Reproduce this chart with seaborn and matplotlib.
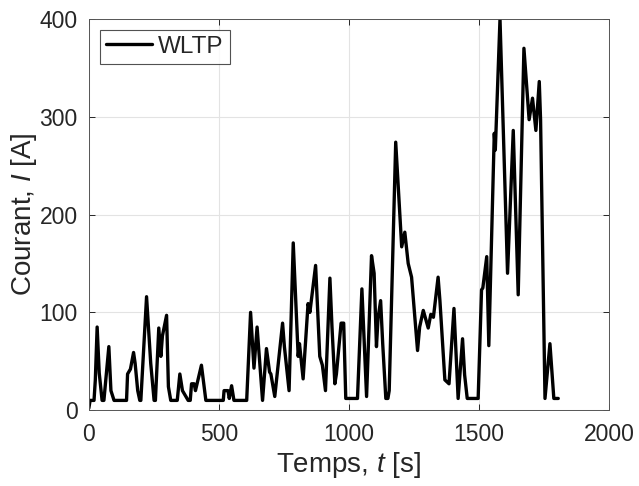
import numpy as np
import pandas as pd
import seaborn as sns
import matplotlib.pyplot as plt

# === WLTP current profile ===
temps_s = [0, 5, 20, 25, 32, 40, 51, 58, 77, 85, 97, 145, 149, 160, 172, 178, 188, 196,
           200, 222, 238, 251, 256, 269, 277, 283, 299, 306, 315, 340, 350, 360, 373, 382,
           390, 395, 405, 410, 433, 440, 450, 517, 520, 535, 540, 549, 558, 607, 622, 635,
           647, 668, 683, 695, 700, 715, 745, 752, 770, 786, 805, 810, 824, 843, 850, 856,
           872, 888, 898, 910, 927, 935, 946, 952, 970, 980, 988, 1033, 1050, 1068, 1087,
           1097, 1106, 1112, 1122, 1130, 1142, 1150, 1155, 1180, 1203, 1215, 1228, 1241,
           1264, 1272, 1286, 1305, 1315, 1325, 1343, 1350, 1369, 1385, 1404, 1420, 1437,
           1445, 1455, 1497, 1510, 1515, 1530, 1538, 1559, 1563, 1581, 1610, 1632, 1651,
           1673, 1693, 1706, 1719, 1732, 1737, 1754, 1773, 1788, 1805]
courant_A = [2, 10, 10, 31, 85, 38, 10, 10, 65, 20, 10, 10, 37, 42, 59, 48, 20, 10,
             10, 116, 48, 10, 10, 84, 55, 76, 97, 24, 10, 10, 37, 20, 14, 10,
             10, 27, 27, 20, 46, 31, 10, 10, 20, 20, 12, 25, 10, 10, 100, 43,
             85, 10, 63, 39, 37, 14, 89, 65, 20, 171, 55, 68, 32, 109, 100, 113,
             148, 55, 46, 20, 135, 85, 27, 37, 89, 89, 12, 12, 124, 14, 158,
             140, 65, 94, 112, 68, 12, 12, 20, 274, 167, 182, 150, 136,
             61, 85, 102, 84, 98, 95, 136, 112, 31, 27, 104, 12, 73,
             36, 12, 12, 123, 125, 157, 66, 283, 266, 400, 140, 286, 118,
             370, 297, 319, 286, 336, 297, 12, 68, 12, 12]
serie = "WLTP"

df = pd.DataFrame({"t": temps_s, "I": courant_A, "serie": serie})

sns.set_theme(style="whitegrid")
plt.rcParams["font.family"] = ["Liberation Sans", "DejaVu Sans"]
plt.rcParams["mathtext.fontset"] = "custom"
plt.rcParams["mathtext.rm"] = "Liberation Sans"
plt.rcParams["mathtext.it"] = "Liberation Sans:italic"

txt = "#262626"
fig = plt.figure(figsize=(6.39, 4.86), dpi=100)
ax = fig.add_axes([0.139, 0.156, 0.814, 0.805])

sns.lineplot(data=df, x="t", y="I", hue="serie", palette=["black"],
             sort=False, estimator=None, linewidth=2.4, ax=ax)
ax.lines[0].set_solid_joinstyle("round")

ax.set_xlim(0, 2000)
ax.set_ylim(0, 400)
ax.set_xticks([0, 500, 1000, 1500, 2000])
ax.set_yticks([0, 100, 200, 300, 400])
ax.grid(True, color="#e3e3e3", linewidth=0.8)
for s in ax.spines.values():
    s.set_color("#555555")
    s.set_linewidth(0.7)
ax.tick_params(direction="in", length=4, width=0.7, colors=txt, labelsize=16.5,
               top=True, right=True, bottom=True, left=True)
ax.tick_params(axis="x", pad=9)
ax.tick_params(axis="y", pad=8)

ax.set_xlabel("Temps, $\\it{t}$ [s]", fontsize=20, color=txt, labelpad=3)
ax.set_ylabel("Courant, $\\it{I}$ [A]", fontsize=20, color=txt, labelpad=0)

leg = ax.legend(loc="upper left", fontsize=17.5, frameon=True, fancybox=False,
                borderaxespad=0.45, handlelength=1.9, handletextpad=0.25,
                borderpad=0.25)
leg.get_frame().set_edgecolor(txt)
leg.get_frame().set_linewidth(0.8)
for t in leg.get_texts():
    t.set_color(txt)

plt.savefig("out.png", dpi=100)
plt.close()
